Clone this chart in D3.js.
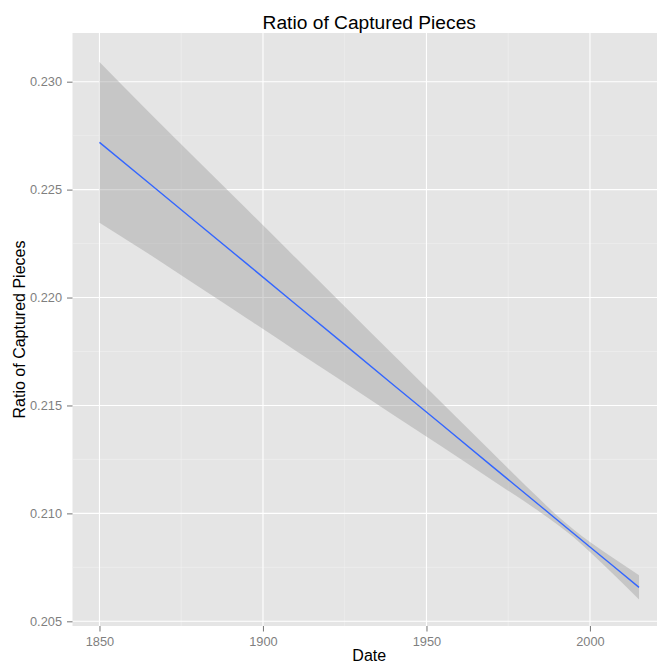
<!DOCTYPE html>
<html>
<head>
<meta charset="utf-8">
<script src="https://cdn.jsdelivr.net/npm/d3@7"></script>
<style>
  body { margin: 0; background: #fff; }
  svg { display: block; font-family: "Liberation Sans", Arial, Helvetica, sans-serif; }
</style>
</head>
<body>
<div id="chart"></div>
<script>
// fitted line (lm) with its confidence band
const years = [1850, 1865, 1880, 1895, 1910, 1925, 1940, 1955, 1970, 1985, 1990, 1995, 2000, 2007, 2015];
const fitValues = [0.22719, 0.22532, 0.22344, 0.22157, 0.21969, 0.21782, 0.21594, 0.21407, 0.21219, 0.21032, 0.20969, 0.20907, 0.20844, 0.20757, 0.20657];
const lowerValues = [0.22347, 0.22203, 0.22053, 0.21904, 0.21754, 0.21605, 0.21455, 0.21306, 0.21155, 0.21003, 0.20949, 0.20889, 0.20821, 0.20720, 0.20601];
const upperValues = [0.23091, 0.22861, 0.22635, 0.22410, 0.22184, 0.21959, 0.21733, 0.21508, 0.21283, 0.21061, 0.20989, 0.20925, 0.20867, 0.20794, 0.20713];

const xTicks = [1850, 1900, 1950, 2000];
const xMinor = [1875, 1925, 1975];
const yTicks = [0.205, 0.210, 0.215, 0.220, 0.225, 0.230];
const yMinor = [0.2075, 0.2125, 0.2175, 0.2225, 0.2275];

const width = 657, height = 669;
const panel = { left: 72.5, right: 666, top: 33, bottom: 626 };

const svg = d3.select("#chart")
    .append("svg")
    .attr("width", width)
    .attr("height", height);

const x = d3.scaleLinear()
    .domain([1841.75, 2023.25])
    .range([panel.left, panel.right]);

const y = d3.scaleLinear()
    .domain([0.204782, 0.232256])
    .range([panel.bottom, panel.top]);

const data = years.map((yr, i) => ({
    year: yr, fit: fitValues[i], lo: lowerValues[i], hi: upperValues[i]
}));

// Panel background
svg.append("rect")
    .attr("x", panel.left)
    .attr("y", panel.top)
    .attr("width", panel.right - panel.left)
    .attr("height", panel.bottom - panel.top)
    .attr("fill", "#E5E5E5");

// Minor grid
const grid = svg.append("g");
grid.selectAll(".xminor").data(xMinor).enter().append("line")
    .attr("x1", d => x(d)).attr("x2", d => x(d))
    .attr("y1", panel.top).attr("y2", panel.bottom)
    .attr("stroke", "#F2F2F2").attr("stroke-width", 0.5);
grid.selectAll(".yminor").data(yMinor).enter().append("line")
    .attr("x1", panel.left).attr("x2", panel.right)
    .attr("y1", d => y(d)).attr("y2", d => y(d))
    .attr("stroke", "#F2F2F2").attr("stroke-width", 0.5);

// Major grid
grid.selectAll(".xmajor").data(xTicks).enter().append("line")
    .attr("x1", d => x(d)).attr("x2", d => x(d))
    .attr("y1", panel.top).attr("y2", panel.bottom)
    .attr("stroke", "#FFFFFF").attr("stroke-width", 1.1);
grid.selectAll(".ymajor").data(yTicks).enter().append("line")
    .attr("x1", panel.left).attr("x2", panel.right)
    .attr("y1", d => y(d)).attr("y2", d => y(d))
    .attr("stroke", "#FFFFFF").attr("stroke-width", 1.1);

// Confidence band
svg.append("path")
    .datum(data)
    .attr("fill", "#999999")
    .attr("fill-opacity", 0.4)
    .attr("d", d3.area()
        .curve(d3.curveMonotoneX)
        .x(d => x(d.year))
        .y0(d => y(d.lo))
        .y1(d => y(d.hi)));

// Fitted line
svg.append("path")
    .datum(data)
    .attr("fill", "none")
    .attr("stroke", "#3366FF")
    .attr("stroke-width", 1.4)
    .attr("d", d3.line()
        .x(d => x(d.year))
        .y(d => y(d.fit)));

// Axes
const xAxis = svg.append("g")
    .attr("transform", `translate(0,${panel.bottom})`)
    .call(d3.axisBottom(x).tickValues(xTicks).tickFormat(d3.format("d")).tickSize(5.5).tickPadding(5));
const yAxis = svg.append("g")
    .attr("transform", `translate(${panel.left},0)`)
    .call(d3.axisLeft(y).tickValues(yTicks).tickFormat(d3.format(".3f")).tickSize(5.5).tickPadding(5));

[xAxis, yAxis].forEach(ax => {
    ax.select(".domain").remove();
    ax.selectAll(".tick line").attr("stroke", "#7F7F7F").attr("stroke-width", 1.1);
    ax.selectAll(".tick text")
        .attr("fill", "#7F7F7F")
        .style("font-size", "12.8px")
        .style("font-family", "'Liberation Sans', Arial, Helvetica, sans-serif");
});

// Titles
svg.append("text")
    .attr("x", (panel.left + panel.right) / 2)
    .attr("y", 29)
    .attr("text-anchor", "middle")
    .attr("font-size", "19.2px")
    .attr("fill", "#000")
    .text("Ratio of Captured Pieces");

svg.append("text")
    .attr("x", (panel.left + panel.right) / 2)
    .attr("y", 661)
    .attr("text-anchor", "middle")
    .attr("font-size", "16px")
    .attr("fill", "#000")
    .text("Date");

svg.append("text")
    .attr("transform", `translate(25,${(panel.top + panel.bottom) / 2}) rotate(-90)`)
    .attr("text-anchor", "middle")
    .attr("font-size", "16px")
    .attr("fill", "#000")
    .text("Ratio of Captured Pieces");
</script>
</body>
</html>
